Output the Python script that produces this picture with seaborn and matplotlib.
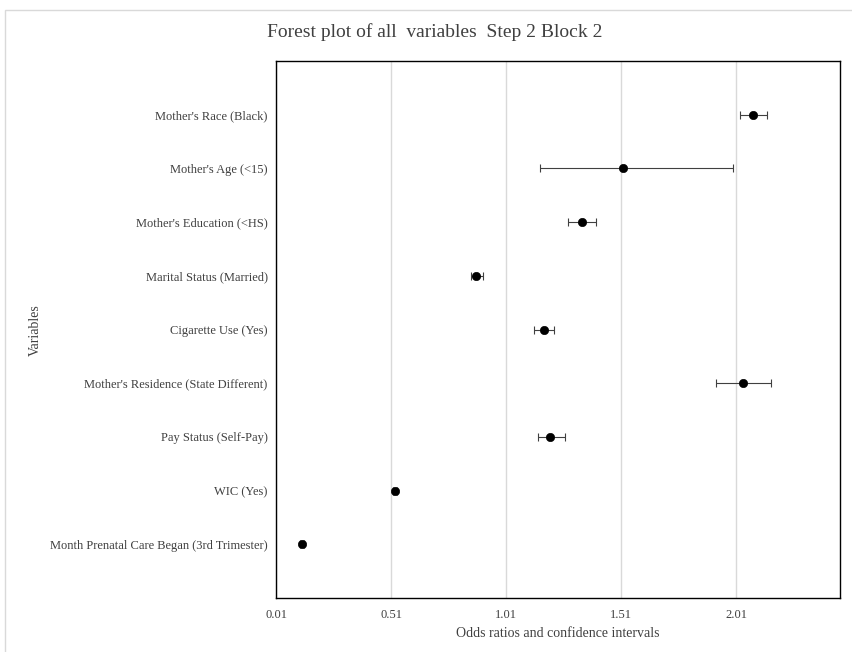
import numpy as np
import pandas as pd
import matplotlib.pyplot as plt
import seaborn as sns
from matplotlib.patches import Rectangle

variables = ["Mother's Race (Black)", "Mother's Age (<15)", "Mother's Education (<HS)",
             "Marital Status (Married)", "Cigarette Use (Yes)",
             "Mother's Residence (State Different)", "Pay Status (Self-Pay)",
             "WIC (Yes)", "Month Prenatal Care Began (3rd Trimester)"]
odds = [2.084, 1.519, 1.34, 0.88, 1.175, 2.04, 1.20, 0.527, 0.123]
ci_low = [2.027, 1.158, 1.28, 0.858, 1.132, 1.923, 1.149, 0.517, 0.115]
ci_high = [2.145, 1.997, 1.40, 0.910, 1.219, 2.162, 1.266, 0.537, 0.131]
xticks = [0.01, 0.51, 1.01, 1.51, 2.01]

df = pd.DataFrame({'Variable': variables, 'OR': odds, 'lo': ci_low, 'hi': ci_high})

sns.set_style('white')
plt.rcParams['font.family'] = ['Liberation Serif', 'DejaVu Serif']

fig = plt.figure(figsize=(8.53, 6.52), dpi=100)
ax = fig.add_axes([0.3236, 0.0828, 0.6612, 0.8236])

# light outer chart border
fig.patches.append(Rectangle((0.006, -0.01), 1.0, 0.995, transform=fig.transFigure,
                             fill=False, edgecolor='#d9d9d9', linewidth=1))

for x in xticks:
    ax.axvline(x, color='#d9d9d9', linewidth=1, zorder=0)

ypos = np.arange(len(variables))
ax.errorbar(df['OR'], ypos, xerr=[df['OR'] - df['lo'], df['hi'] - df['OR']],
            fmt='none', ecolor='#404040', elinewidth=0.8, capsize=3, capthick=0.8, zorder=2)
sns.scatterplot(data=df, x='OR', y='Variable', ax=ax, color='black', s=36,
                edgecolor='black', zorder=3, legend=False)

ax.set_xlim(0.01, 2.462)
ax.set_ylim(len(variables), -1)
ax.set_xticks(xticks)
ax.set_xticklabels([f'{x:.2f}' for x in xticks])
ax.tick_params(axis='both', length=0, labelsize=9, colors='#404040', pad=8)
ax.tick_params(axis='y', pad=6)

for s in ax.spines.values():
    s.set_color('black')
    s.set_linewidth(1)

ax.set_xlabel('Odds ratios and confidence intervals', fontsize=10, color='#404040', labelpad=4)
ax.set_ylabel('')
fig.text(0.041, 0.494, 'Variables', rotation=90, ha='center', va='center',
         fontsize=10, color='#404040')
fig.text(0.51, 0.951, 'Forest plot of all  variables  Step 2 Block 2', ha='center',
         va='center', fontsize=14, color='#404040')

fig.savefig('out.png', dpi=100)
